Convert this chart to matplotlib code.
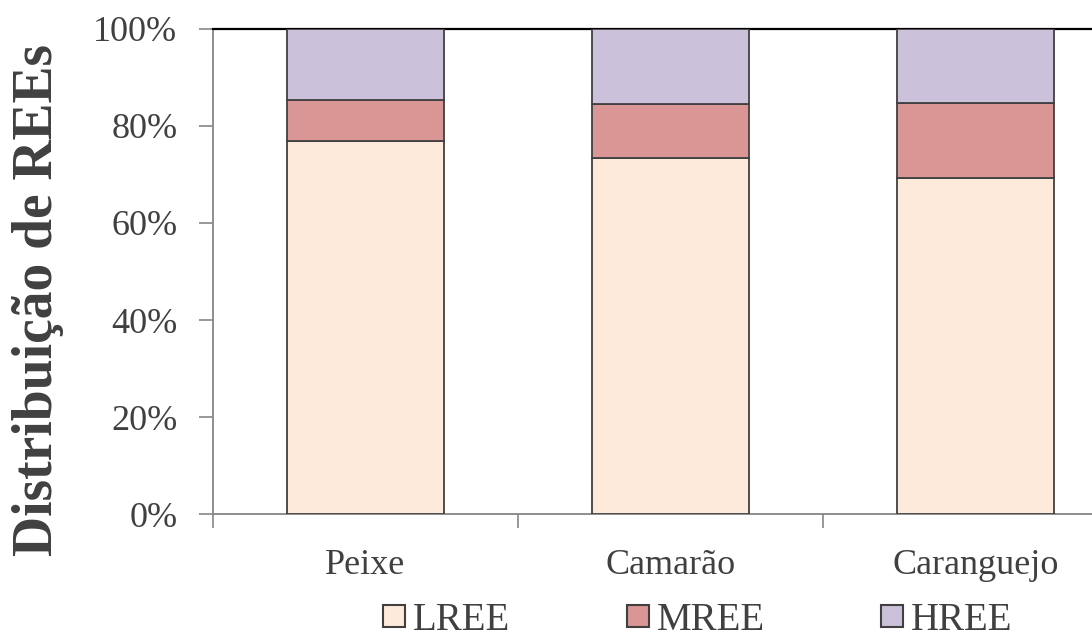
import numpy as np
import matplotlib
matplotlib.use("Agg")
import matplotlib.pyplot as plt
from matplotlib.patches import Patch
import matplotlib.ticker as mticker

# Relative distribution of rare earth element groups (fraction of total)
categories = ["Peixe", "Camarão", "Caranguejo"]
series_names = ["LREE", "MREE", "HREE"]
lree = [0.769, 0.734, 0.692]
mree = [0.085, 0.111, 0.154]
hree = [0.146, 0.155, 0.154]

COLORS = ["#FDEADA", "#D99694", "#CCC1DA"]
EDGE = "#404040"
TEXT = "#404040"
AXIS_GRAY = "#868686"

plt.rcParams["font.family"] = ["Liberation Serif", "DejaVu Serif"]

fig = plt.figure(figsize=(10.92, 6.34), dpi=100)
# plot area runs past the right edge of the canvas
ax = fig.add_axes([0.1948, 0.1888, 0.838, 0.766])

x = np.arange(len(categories))
bottom = np.zeros(len(categories))
for name, vals, col in zip(series_names, [lree, mree, hree], COLORS):
    ax.bar(x, vals, width=0.514, bottom=bottom, color=col, edgecolor=EDGE,
           linewidth=1.3, label=name, zorder=3)
    bottom += np.array(vals)

ax.set_xlim(-0.5, len(categories) - 0.5)
ax.set_ylim(0, 1)
ax.yaxis.set_major_locator(mticker.MultipleLocator(0.2))
ax.yaxis.set_major_formatter(mticker.PercentFormatter(1.0, decimals=0))

ax.set_xticks(np.arange(len(categories) + 1) - 0.5, minor=False)
ax.set_xticklabels([])
ax.set_xticks(x, minor=True)
ax.set_xticklabels(categories, minor=True)
ax.tick_params(axis="x", which="minor", length=0, labelsize=26, pad=25,
               labelcolor=TEXT)
ax.tick_params(axis="x", which="major", length=10, width=1.2, color=AXIS_GRAY)
ax.tick_params(axis="y", length=10, width=1.2, color=AXIS_GRAY, labelsize=26,
               pad=15.5, labelcolor=TEXT)

for side in ["left", "bottom"]:
    ax.spines[side].set_color(AXIS_GRAY)
    ax.spines[side].set_linewidth(1.3)
ax.spines["top"].set_color("black")
ax.spines["top"].set_linewidth(1.6)
ax.spines["right"].set_visible(False)

# y-axis title placed in figure coordinates
fig.text(12 / 1092, 1 - 300 / 634, "Distribuição de REEs", rotation=90,
         ha="left", va="center", fontsize=40, fontweight="bold", color=TEXT)

handles = [Patch(facecolor=c, edgecolor=EDGE, linewidth=1.5) for c in COLORS]
fig.legend(handles, series_names, loc="center", bbox_to_anchor=(0.639, 0.022),
           ncol=3, frameon=False, fontsize=28, labelcolor=TEXT,
           handlelength=0.56, handleheight=0.5, handletextpad=0.2,
           columnspacing=3.0)

fig.savefig("out.png", dpi=100)
